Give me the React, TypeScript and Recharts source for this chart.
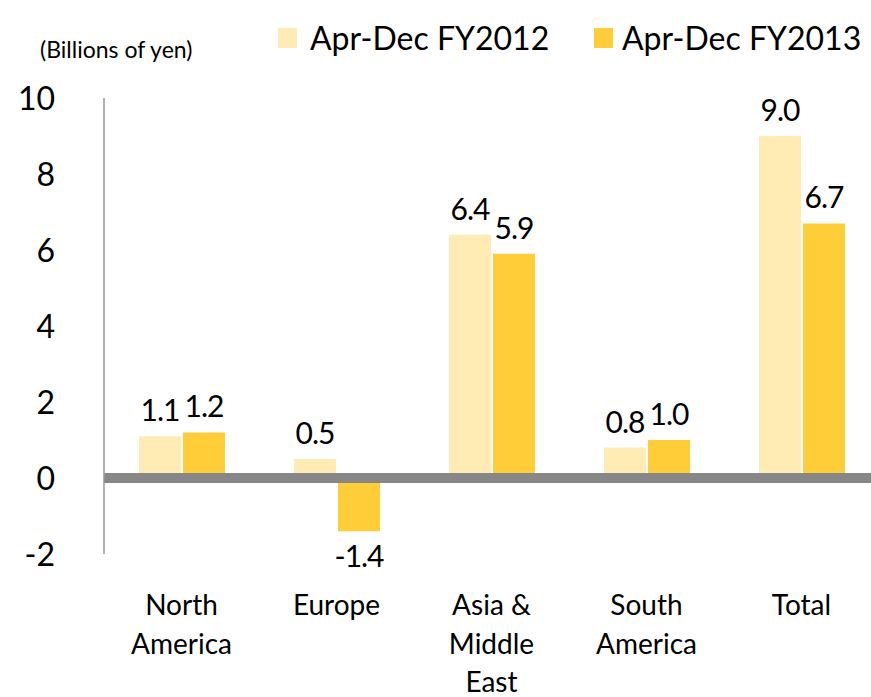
import React from "react";
import { BarChart, Bar, XAxis, YAxis, ReferenceLine, LabelList } from "recharts";

const regions = ["North America", "Europe", "Asia & Middle East", "South America", "Total"];
const regionLines = [["North", "America"], ["Europe"], ["Asia &", "Middle", "East"], ["South", "America"], ["Total"]];
const fy2012 = [1.1, 0.5, 6.4, 0.8, 9.0];
const fy2013 = [1.2, -1.4, 5.9, 1.0, 6.7];
const yTicks = [-2, 0, 2, 4, 6, 8, 10];

const LIGHT = "#FFEBB3";
const DARK = "#FFCD38";
const FONT = "Lato, 'Open Sans', sans-serif";

const data = regions.map((name, i) => ({
  name,
  a: fy2012[i],
  b: fy2013[i],
}));

const ValueLabel = (props: any) => {
  const { x, y, width, height, value } = props;
  const top = Math.min(y, y + height);
  const bottom = Math.max(y, y + height);
  const cx = x + width / 2;
  const ty = value >= 0 ? top - 15 : bottom + 36;
  return (
    <text x={cx} y={ty} textAnchor="middle" fontFamily={FONT} fontSize={30} letterSpacing={-1} fill="#000">
      {value.toFixed(1)}
    </text>
  );
};

const CategoryTick = (props: any) => {
  const { x, y, payload } = props;
  const lines = regionLines[payload.index] || [payload.value];
  return (
    <g>
      {lines.map((l: string, i: number) => (
        <text key={i} x={x} y={y + 53 + i * 38.5} textAnchor="middle" fontFamily={FONT} fontSize={28} fill="#000">
          {l}
        </text>
      ))}
    </g>
  );
};

const ValueTick = (props: any) => {
  const { y, payload } = props;
  return (
    <text x={55} y={y + 12} textAnchor="end" fontFamily={FONT} fontSize={32} fill="#000">
      {payload.value}
    </text>
  );
};

export default function App() {
  return (
    <div style={{ position: "absolute", left: 0, top: 0, width: 871, height: 697, overflow: "hidden", background: "#fff" }}>
      <svg width={871} height={70} style={{ position: "absolute", left: 0, top: 0 }}>
        <text x={40} y={58} fontFamily={FONT} fontSize={23} fill="#000">(Billions of yen)</text>
        <rect x={278} y={28} width={19} height={20} fill={LIGHT} />
        <text x={310} y={50} fontFamily={FONT} fontSize={32} fill="#000">Apr-Dec FY2012</text>
        <rect x={594} y={28} width={19} height={20} fill={DARK} />
        <text x={622} y={50} fontFamily={FONT} fontSize={32} fill="#000">Apr-Dec FY2013</text>
      </svg>
      <BarChart
        width={890}
        height={697}
        data={data}
        margin={{ top: 98, right: 11, left: 0, bottom: 0 }}
        barSize={42}
        barGap={2}
      >
        <XAxis dataKey="name" axisLine={false} tickLine={false} height={143} tick={<CategoryTick />} interval={0} />
        <YAxis
          type="number"
          domain={[-2, 10]}
          ticks={yTicks}
          width={104}
          axisLine={{ stroke: "#9a9a9a", strokeWidth: 1.5 }}
          tickLine={false}
          tick={<ValueTick />}
        />
        <Bar dataKey="a" fill={LIGHT} isAnimationActive={false}>
          <LabelList dataKey="a" content={<ValueLabel />} />
        </Bar>
        <Bar dataKey="b" fill={DARK} isAnimationActive={false}>
          <LabelList dataKey="b" content={<ValueLabel />} />
        </Bar>
        <ReferenceLine y={0} stroke="#878787" strokeWidth={10} />
      </BarChart>
    </div>
  );
}
